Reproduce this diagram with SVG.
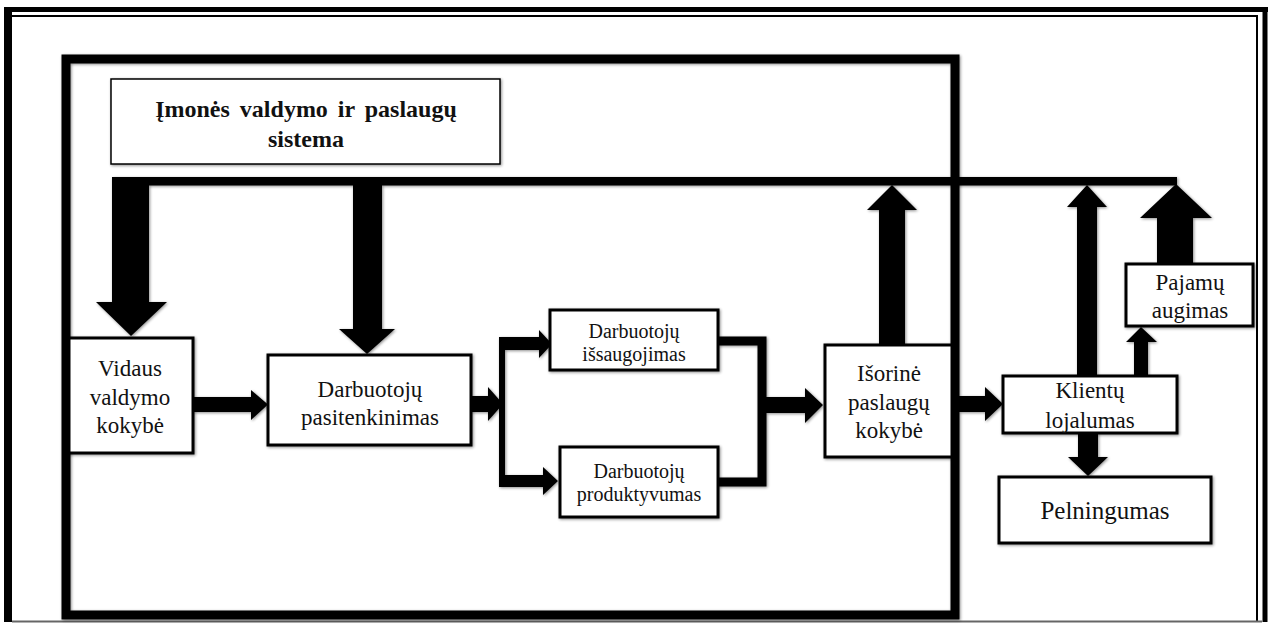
<svg xmlns="http://www.w3.org/2000/svg" width="1270" height="624" viewBox="0 0 1270 624">
<defs>
  <filter id="sh" filterUnits="userSpaceOnUse" x="0" y="0" width="1270" height="624">
    <feGaussianBlur in="SourceAlpha" stdDeviation="1.6"/>
    <feOffset dx="1" dy="1" result="b"/>
    <feComponentTransfer><feFuncA type="linear" slope="0.45"/></feComponentTransfer>
    <feMerge><feMergeNode/><feMergeNode in="SourceGraphic"/></feMerge>
  </filter>
</defs>
<style>
  .box { fill:#fff; stroke:#000; stroke-width:3; filter:url(#sh); }
  .thin { stroke-width:1.5; }
  .t { font-family:"Liberation Serif","Times New Roman",serif; font-size:23px; fill:#111; text-anchor:middle; }
  .ts { font-size:20px; }
  .tb { font-weight:bold; font-size:24px; word-spacing:4px; }
  .arr { fill:#000; }
  .ln { fill:none; stroke:#000; }
</style>
<rect x="0" y="0" width="1270" height="624" fill="#fff"/>

<g id="page-frame" class="ln">
  <line x1="8" y1="7" x2="8" y2="622" stroke-width="8"/>
  <line x1="4" y1="9.5" x2="1268" y2="9.5" stroke-width="5"/>
  <line x1="1265" y1="7" x2="1265" y2="622" stroke-width="5"/>
  <line x1="12" y1="16" x2="1258" y2="16" stroke-width="2"/>
  <line x1="1257" y1="16" x2="1257" y2="622" stroke-width="2"/>
  <line x1="12" y1="621.5" x2="1262" y2="621.5" stroke="#666" stroke-width="2"/>
</g>

<g id="system-frame">
  <rect x="66" y="59" width="889" height="556" fill="none" stroke="#000" stroke-width="9" filter="url(#sh)"/>
</g>

<g id="title">
  <rect class="box thin" x="111" y="79" width="389" height="85"/>
  <text class="t tb" x="306" y="117">Įmonės valdymo ir paslaugų</text>
  <text class="t tb" x="306" y="147">sistema</text>
</g>

<g id="connectors" filter="url(#sh)">
  <rect class="arr" x="112" y="177" width="1065" height="8.5"/>
  <polygon class="arr" points="112,181 149,181 149,302 167,302 131,336 96,302 112,302"/>
  <polygon class="arr" points="353,181 382,181 382,329 395,329 367,354 339,329 353,329"/>
  <polygon class="arr" points="879,345 879,210 867,210 892,185 917,210 905,210 905,345"/>
  <polygon class="arr" points="1077,376 1077,207 1067,207 1087,185 1107,207 1097,207 1097,376"/>
  <polygon class="arr" points="1157,264 1157,218 1140,218 1176,184 1212,218 1193,218 1193,264"/>
  <polygon class="arr" points="1134,376 1134,342 1126,342 1141,327 1157,342 1148,342 1148,376"/>
  <polygon class="arr" points="193,397 251,397 251,390 268,404.5 251,420 251,412 193,412"/>
  <polygon class="arr" points="471,396 488,396 488,387 503,404 488,421 488,412 471,412"/>
  <rect class="arr" x="499" y="337" width="6" height="150"/>
  <polygon class="arr" points="499,337 539,337 539,330 552,344 539,358 539,350 499,350"/>
  <polygon class="arr" points="499,475 543,475 543,467 558,481 543,495 543,487 499,487"/>
  <path class="ln" d="M718,341 H762 V482 H718" stroke-width="9"/>
  <polygon class="arr" points="766,397 805,397 805,388 823,405 805,423 805,413 766,413"/>
  <polygon class="arr" points="959,396 985,396 985,387 1003,404 985,421 985,412 959,412"/>
  <polygon class="arr" points="1078,433 1098,433 1098,457 1108,457 1088,476 1068,457 1078,457"/>
</g>

<g id="vidaus">
  <rect class="box" x="69" y="338" width="124" height="115"/>
  <text class="t" x="130" y="376">Vidaus</text>
  <text class="t" x="130" y="405">valdymo</text>
  <text class="t" x="130" y="433">kokybė</text>
</g>

<g id="pasitenkinimas">
  <rect class="box" x="268" y="355" width="203" height="90"/>
  <text class="t" x="370" y="397">Darbuotojų</text>
  <text class="t" x="370" y="425">pasitenkinimas</text>
</g>

<g id="issaugojimas">
  <rect class="box" x="550" y="310" width="168" height="60"/>
  <text class="t ts" x="634" y="338">Darbuotojų</text>
  <text class="t ts" x="634" y="361">išsaugojimas</text>
</g>

<g id="produktyvumas">
  <rect class="box" x="560" y="447" width="158" height="70"/>
  <text class="t ts" x="639" y="478">Darbuotojų</text>
  <text class="t ts" x="639" y="501">produktyvumas</text>
</g>

<g id="isorine">
  <rect class="box" x="825" y="345" width="127" height="112"/>
  <text class="t" x="889" y="381">Išorinė</text>
  <text class="t" x="889" y="410">paslaugų</text>
  <text class="t" x="889" y="438">kokybė</text>
</g>

<g id="klientu">
  <rect class="box" x="1003" y="376" width="174" height="57"/>
  <text class="t" x="1090" y="398">Klientų</text>
  <text class="t" x="1090" y="428">lojalumas</text>
</g>

<g id="pajamu">
  <rect class="box" x="1126" y="264" width="127" height="62"/>
  <text class="t" x="1190" y="290">Pajamų</text>
  <text class="t" x="1190" y="318">augimas</text>
</g>

<g id="pelningumas">
  <rect class="box" x="999" y="477" width="212" height="66"/>
  <text class="t" x="1105" y="519" style="font-size:25px">Pelningumas</text>
</g>
</svg>
